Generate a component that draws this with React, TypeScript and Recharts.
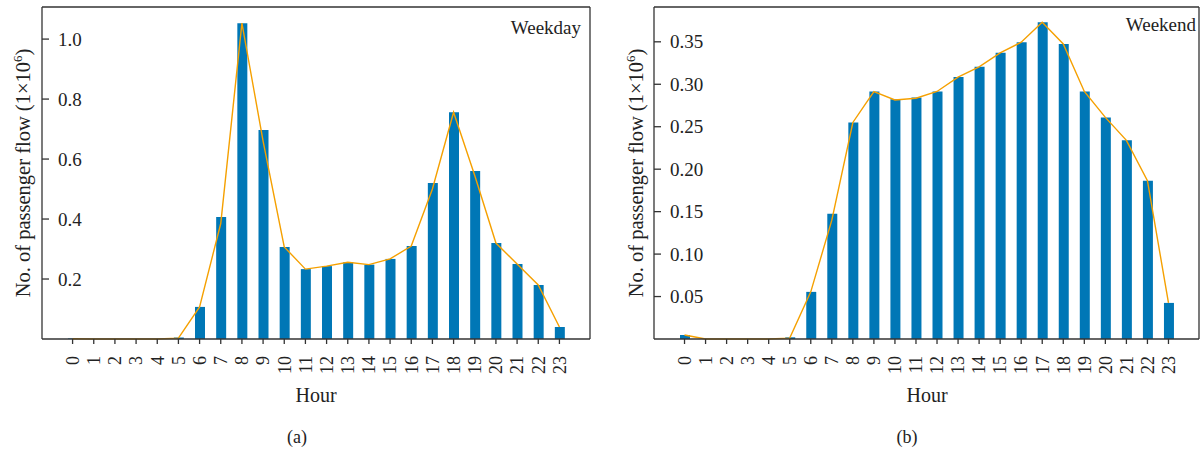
import { ComposedChart, Bar, Line, XAxis, YAxis } from "recharts";

const hours = ["0", "1", "2", "3", "4", "5", "6", "7", "8", "9", "10", "11", "12", "13", "14", "15", "16", "17", "18", "19", "20", "21", "22", "23"];

// bar heights (1×10^6)
const weekday = [0.002, 0, 0, 0, 0, 0.005, 0.107, 0.407, 1.053, 0.697, 0.307, 0.233, 0.243, 0.256, 0.248, 0.267, 0.31, 0.52, 0.756, 0.56, 0.32, 0.25, 0.18, 0.04];
const weekend = [0.0047, 0, 0, 0, 0, 0.002, 0.0555, 0.1476, 0.255, 0.2915, 0.2825, 0.2845, 0.2915, 0.3085, 0.3205, 0.337, 0.3495, 0.373, 0.3475, 0.2915, 0.261, 0.234, 0.1865, 0.0425];

// orange trend line, read separately (it cuts slightly under a few bars)
const weekdayLine = [0.001, 0, 0, 0, 0, 0.003, 0.107, 0.385, 1.053, 0.66, 0.307, 0.233, 0.243, 0.256, 0.248, 0.267, 0.31, 0.5, 0.756, 0.545, 0.32, 0.25, 0.18, 0.04];
const weekendLine = [0.0047, 0, 0, 0, 0, 0.001, 0.0555, 0.14, 0.255, 0.2915, 0.2815, 0.2835, 0.2915, 0.3085, 0.3205, 0.337, 0.3495, 0.373, 0.3475, 0.2915, 0.261, 0.234, 0.1865, 0.0425];

const weekdayTicks = [0.2, 0.4, 0.6, 0.8, 1.0];
const weekendTicks = [0.05, 0.1, 0.15, 0.2, 0.25, 0.3, 0.35];

const FONT = "'Liberation Serif', 'DejaVu Serif', serif";
const BAR = "#0077b6";
const LINE = "#f5a000";
const FRAME = "#333";
const INK = "#222";

const renderXTick = (props: any) => {
  const { x, y, payload } = props;
  return (
    <text
      key={`x-${payload.value}`}
      x={x}
      y={y}
      transform={`rotate(-90 ${x} ${y})`}
      textAnchor="end"
      dy="0.35em"
      fill={INK}
      fontSize={18}
      fontFamily={FONT}
    >
      {payload.value}
    </text>
  );
};

// y ticks point inward and their labels sit inside the frame
const makeYTick = (axisX: number, digits: number) => (props: any) => {
  const { y, payload } = props;
  return (
    <g key={`y-${payload.value}`}>
      <line x1={axisX} x2={axisX + 7} y1={y} y2={y} stroke={FRAME} strokeWidth={1.3} />
      <text x={axisX + 16} y={y} dy="0.35em" textAnchor="start" fill={INK} fontSize={19} fontFamily={FONT}>
        {Number(payload.value).toFixed(digits)}
      </text>
    </g>
  );
};

function Panel(props: {
  values: number[];
  line: number[];
  ticks: number[];
  max: number;
  digits: number;
  width: number;
  left: number;
  right: number;
}) {
  const data = hours.map((h, i) => ({ hour: h, v: props.values[i], t: props.line[i] }));
  return (
    <ComposedChart
      width={props.width}
      height={449}
      data={data}
      margin={{ top: 2, left: props.left - 10, right: props.right - 1, bottom: 50 }}
    >
      <XAxis
        dataKey="hour"
        interval={0}
        height={60}
        padding={{ left: 20, right: 20 }}
        tickSize={5}
        tickMargin={12}
        tick={renderXTick}
        stroke={FRAME}
        strokeWidth={1.3}
      />
      <XAxis xAxisId="top" dataKey="hour" orientation="top" height={5} tick={false} tickLine={false} stroke={FRAME} strokeWidth={1.3} />
      <YAxis
        domain={[0, props.max]}
        ticks={props.ticks}
        width={10}
        tickSize={0}
        tickMargin={0}
        tickLine={false}
        tick={makeYTick(props.left, props.digits)}
        stroke={FRAME}
        strokeWidth={1.3}
      />
      <YAxis yAxisId="right" orientation="right" width={1} tick={false} tickLine={false} stroke={FRAME} strokeWidth={1.3} />
      <Bar dataKey="v" fill={BAR} barSize={10} isAnimationActive={false} />
      <Line type="linear" dataKey="t" stroke={LINE} strokeWidth={1.4} dot={false} isAnimationActive={false} />
    </ComposedChart>
  );
}

const textStyle: React.CSSProperties = {
  position: "absolute",
  fontFamily: FONT,
  color: INK,
  whiteSpace: "nowrap",
  lineHeight: 1,
};

function YLabel({ cx, cy }: { cx: number; cy: number }) {
  return (
    <div
      style={{
        ...textStyle,
        left: cx,
        top: cy,
        fontSize: 20.5,
        transform: "translate(-50%, -50%) rotate(-90deg)",
      }}
    >
      No. of passenger flow (1×10<sup style={{ fontSize: 13 }}>6</sup>)
    </div>
  );
}

export default function App() {
  return (
    <div style={{ position: "absolute", left: 0, top: 0, width: 1202, height: 449, background: "#fff" }}>
      <div style={{ position: "absolute", left: 0, top: 0 }}>
        <Panel values={weekday} line={weekdayLine} ticks={weekdayTicks} max={1.107} digits={1} width={600} left={42} right={10} />
      </div>
      <div style={{ position: "absolute", left: 600, top: 0 }}>
        <Panel values={weekend} line={weekendLine} ticks={weekendTicks} max={0.391} digits={2} width={602} left={54} right={3} />
      </div>
      <YLabel cx={22} cy={173} />
      <YLabel cx={635} cy={173} />
      <div style={{ ...textStyle, right: 1202 - 581, top: 18, fontSize: 19 }}>Weekday</div>
      <div style={{ ...textStyle, right: 1202 - 1196, top: 15, fontSize: 19 }}>Weekend</div>
      <div style={{ ...textStyle, left: 316, top: 395, fontSize: 20, transform: "translate(-50%, -50%)" }}>Hour</div>
      <div style={{ ...textStyle, left: 927, top: 395, fontSize: 20, transform: "translate(-50%, -50%)" }}>Hour</div>
      <div style={{ ...textStyle, left: 297, top: 437, fontSize: 18, transform: "translate(-50%, -50%)" }}>(a)</div>
      <div style={{ ...textStyle, left: 907, top: 437, fontSize: 18, transform: "translate(-50%, -50%)" }}>(b)</div>
    </div>
  );
}
